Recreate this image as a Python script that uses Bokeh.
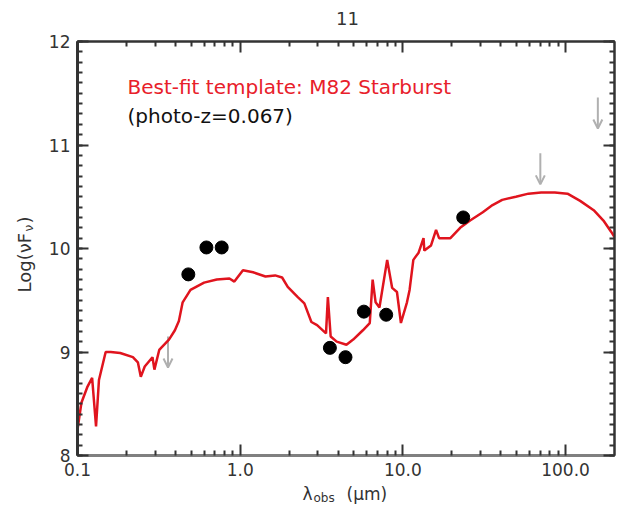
import math
from bokeh.plotting import figure
from bokeh.layouts import row, column
from bokeh.models import (Range1d, ColumnDataSource, Label, Arrow, OpenHead, LogAxis,
                          LinearAxis, FixedTicker, SingleIntervalTicker, CustomJSTickFormatter)
from bokeh.embed import file_html
from bokeh.resources import INLINE

# ---------------- data ----------------
sed_wavelength = [0.100, 0.1057, 0.1148, 0.123, 0.130, 0.1355, 0.149, 0.160, 0.183, 0.219,
                  0.235, 0.245, 0.259, 0.289, 0.297, 0.318, 0.365, 0.397, 0.420, 0.443,
                  0.495, 0.600, 0.718, 0.859, 0.921, 1.04, 1.20, 1.43, 1.64, 1.81,
                  1.96, 2.26, 2.48, 2.74, 2.97, 3.37, 3.46, 3.60, 3.92, 4.50,
                  4.95, 5.68, 6.26, 6.52, 6.80, 7.18, 8.01, 8.59, 9.20, 9.73,
                  10.6, 11.0, 11.6, 12.5, 13.4, 13.55, 14.9, 16.0, 16.7, 19.6,
                  22.5, 25.9, 31.0, 35.6, 40.8, 49.5, 59.2, 70.8, 85.9, 102.8,
                  123.0, 149.0, 171.0, 191.0, 200.0]
sed_logflux = [8.25, 8.51, 8.66, 8.75, 8.28, 8.73, 9.00, 9.00, 8.99, 8.95,
               8.90, 8.76, 8.86, 8.95, 8.83, 9.02, 9.12, 9.21, 9.30, 9.48,
               9.60, 9.67, 9.70, 9.71, 9.68, 9.79, 9.77, 9.73, 9.74, 9.72,
               9.63, 9.53, 9.47, 9.29, 9.26, 9.18, 9.53, 9.15, 9.10, 9.07,
               9.12, 9.21, 9.28, 9.70, 9.48, 9.43, 9.89, 9.62, 9.58, 9.28,
               9.48, 9.60, 9.89, 9.96, 10.10, 9.98, 10.03, 10.18, 10.10, 10.10,
               10.20, 10.27, 10.35, 10.42, 10.47, 10.50, 10.53, 10.54, 10.54, 10.53,
               10.46, 10.37, 10.27, 10.16, 10.11]

phot_wavelength = [0.48, 0.62, 0.77, 3.56, 4.44, 5.76, 7.9, 23.5]
phot_logflux = [9.75, 10.01, 10.01, 9.04, 8.95, 9.39, 9.36, 10.30]

ulim_wavelength = [0.36, 70.0, 158.0]
ulim_logflux = [9.15, 10.92, 11.46]
ulim_arrow_length = 0.3

x_ticks = [0.1, 1.0, 10.0, 100.0]
x_tick_labels = ["0.1", "1.0", "10.0", "100.0"]
x_minor_mantissas = [2, 3, 4, 5, 6, 7, 8, 9]
x_decades = [0.1, 1.0, 10.0]

title_text = "11"
template_text = "Best-fit template: M82 Starburst"
photoz_text = "(photo-z=0.067)"

FONT = "DejaVu Sans"
AX_COLOR = "#333333"

# ---------------- layout sizes ----------------
TOTAL_W, TOTAL_H = 616, 504
YSTRIP_W = 36
TSTRIP_H = 31
XSTRIP_H = 22
MAIN_W = TOTAL_W - YSTRIP_W
MAIN_H = TOTAL_H - XSTRIP_H - TSTRIP_H

p = figure(width=MAIN_W, height=MAIN_H, x_axis_type="log",
           x_range=Range1d(0.1, 200), y_range=Range1d(8, 12),
           output_backend="svg", toolbar_location=None,
           min_border_left=41, min_border_right=2, min_border_top=10, min_border_bottom=27)
p.grid.visible = False
p.outline_line_color = AX_COLOR
p.outline_line_width = 2
p.background_fill_color = "white"
p.border_fill_color = "white"

x_minor = [m * d for d in x_decades for m in x_minor_mantissas]


def style_axis(ax):
    ax.major_tick_in = 11
    ax.major_tick_out = 0
    ax.minor_tick_in = 5
    ax.minor_tick_out = 0
    ax.major_tick_line_color = AX_COLOR
    ax.minor_tick_line_color = AX_COLOR
    ax.major_tick_line_width = 2
    ax.minor_tick_line_width = 2
    ax.axis_line_color = AX_COLOR
    ax.axis_line_width = 2
    ax.major_label_text_font = FONT
    ax.major_label_text_font_size = "17px"
    ax.major_label_text_color = AX_COLOR


xb = p.xaxis[0]
xb.ticker = FixedTicker(ticks=x_ticks, minor_ticks=x_minor)
xb.major_label_overrides = {t: s for t, s in zip(x_ticks, x_tick_labels)}
style_axis(xb)
xb.axis_line_color = "#808080"
xb.axis_line_width = 3
xb.major_label_standoff = 7

yl = p.yaxis[0]
yl.ticker = SingleIntervalTicker(interval=1, num_minor_ticks=10)
style_axis(yl)
yl.axis_line_width = 3
yl.major_label_standoff = 7

blank = "return ''"
xt = LogAxis(ticker=FixedTicker(ticks=x_ticks, minor_ticks=x_minor),
             formatter=CustomJSTickFormatter(code=blank))
style_axis(xt)
xt.major_label_standoff = 0
p.add_layout(xt, "above")

yr = LinearAxis(ticker=SingleIntervalTicker(interval=1, num_minor_ticks=10),
                formatter=CustomJSTickFormatter(code=blank))
style_axis(yr)
yr.major_label_standoff = 0
p.add_layout(yr, "right")

# upper limits (drawn under the curve)
ulim_src = ColumnDataSource(dict(
    x0=ulim_wavelength, y0=ulim_logflux,
    x1=ulim_wavelength, y1=[v - ulim_arrow_length for v in ulim_logflux]))
p.add_layout(Arrow(end=OpenHead(size=9, line_color="#b0b0b0", line_width=2),
                   x_start="x0", y_start="y0", x_end="x1", y_end="y1",
                   source=ulim_src, line_color="#b0b0b0", line_width=2, level="underlay"))

# SED template
p.line(sed_wavelength, sed_logflux, line_color="#e0141e", line_width=2.5)

# photometry
p.scatter(phot_wavelength, phot_logflux, size=13, color="black")

# in-plot texts (screen units relative to the frame's bottom-left)
p.add_layout(Label(x=50, y=369, x_units="screen", y_units="screen", text=template_text,
                   text_align="left", text_baseline="alphabetic", text_font=FONT,
                   text_font_size="20px", text_color="#e8202a"))
p.add_layout(Label(x=50, y=340, x_units="screen", y_units="screen", text=photoz_text,
                   text_align="left", text_baseline="alphabetic", text_font=FONT,
                   text_font_size="20px", text_color="#111111"))


def strip(w, h):
    f = figure(width=w, height=h, x_range=Range1d(0, 1), y_range=Range1d(0, 1),
               output_backend="svg", toolbar_location=None, min_border=0,
               x_axis_location=None, y_axis_location=None)
    f.outline_line_color = None
    f.grid.visible = False
    f.background_fill_color = "white"
    f.border_fill_color = "white"
    return f


# title strip
tfig = strip(TOTAL_W, TSTRIP_H)
tfig.add_layout(Label(x=347, y=13, x_units="screen", y_units="screen", text=title_text,
                      text_align="center", text_baseline="alphabetic", text_font=FONT,
                      text_font_size="18px", text_color=AX_COLOR))

# y axis title: Log(nu F_nu), rotated (frame of this strip lines up with the main frame)
yfig = strip(YSTRIP_W, MAIN_H)
yfig.add_layout(Label(x=24, y=163, x_units="screen", y_units="screen", text="Log(νF",
                      angle=math.pi / 2, text_align="left", text_baseline="alphabetic",
                      text_font=FONT, text_font_size="18px", text_color=AX_COLOR))
yfig.add_layout(Label(x=28, y=224, x_units="screen", y_units="screen", text="ν",
                      angle=math.pi / 2, text_align="left", text_baseline="alphabetic",
                      text_font=FONT, text_font_size="12px", text_color=AX_COLOR))
yfig.add_layout(Label(x=24, y=232, x_units="screen", y_units="screen", text=")",
                      angle=math.pi / 2, text_align="left", text_baseline="alphabetic",
                      text_font=FONT, text_font_size="18px", text_color=AX_COLOR))

# x axis title: lambda_obs (um)
xfig = strip(TOTAL_W, XSTRIP_H)
xfig.add_layout(Label(x=302, y=11, x_units="screen", y_units="screen", text="λ",
                      text_align="left", text_baseline="alphabetic", text_font=FONT,
                      text_font_size="17px", text_color=AX_COLOR))
xfig.add_layout(Label(x=313, y=7, x_units="screen", y_units="screen", text="obs",
                      text_align="left", text_baseline="alphabetic", text_font=FONT,
                      text_font_size="12px", text_color=AX_COLOR))
xfig.add_layout(Label(x=346, y=11, x_units="screen", y_units="screen", text="(μm)",
                      text_align="left", text_baseline="alphabetic", text_font=FONT,
                      text_font_size="17px", text_color=AX_COLOR))

layout = column(tfig, row(yfig, p, spacing=0), xfig, spacing=0)

open("out.html", "w").write(file_html(layout, INLINE))
